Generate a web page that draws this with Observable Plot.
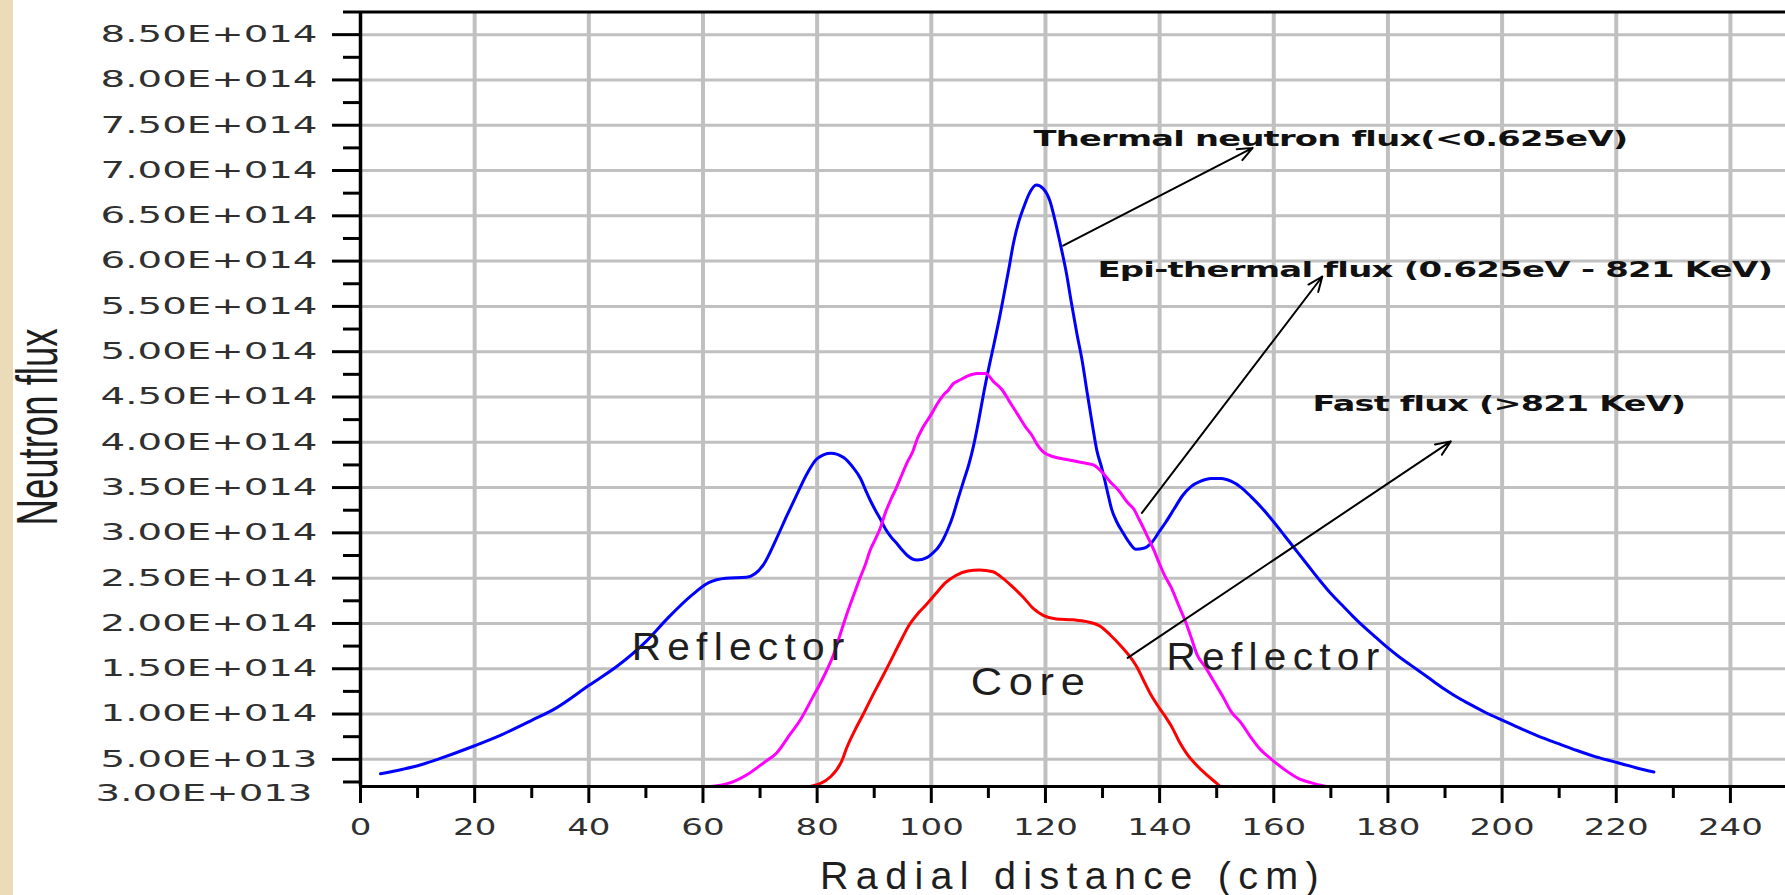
<!DOCTYPE html>
<html>
<head>
<meta charset="utf-8">
<script src="https://cdn.jsdelivr.net/npm/d3@7"></script>
<script src="https://cdn.jsdelivr.net/npm/@observablehq/plot@0.6"></script>
<style>
  html, body { margin: 0; padding: 0; background: #fff; }
  #chart { width: 1785px; height: 895px; }
</style>
</head>
<body>
<div id="chart"></div>
<script>
// ---- Data (radial distance in cm, flux in units of 1e14) ----
const thermalX = [3.5, 7.4, 10.6, 13.5, 20, 24.7, 30, 34.1, 40.1, 45, 50, 54, 58, 61, 64, 67.6, 70.6, 72.9, 74.7, 76.5, 78.2, 80, 82.4, 84.7, 86.2, 87.6, 88.5, 89.3, 90.2, 91.1, 92.0, 93.0, 94.0, 94.9, 95.8, 97.5, 99.3, 100.3, 101.1, 102.1, 102.9, 103.8, 104.7, 105.7, 106.6, 107.4, 108.3, 109.2, 110.1, 111.0, 111.9, 112.7, 113.6, 114.4, 115.3, 116.4, 117.2, 118.4, 119.6, 120.8, 121.6, 122.6, 123.6, 124.6, 125.5, 126.4, 127.3, 128.2, 129.0, 129.9, 130.8, 131.6, 132.5, 133.6, 134.6, 135.8, 137.2, 138.7, 139.9, 141.1, 142.5, 144.0, 145.5, 147.2, 149.0, 150.8, 152.5, 154.3, 156.0, 158, 160, 162, 164, 166, 168, 170, 172, 174, 176, 178, 180, 182, 184, 186, 188, 190, 192, 194, 197, 200.5, 204, 207, 210, 213, 216.3, 219.2, 223.3, 226.6];
const thermalFlux = [0.34, 0.39, 0.44, 0.50, 0.65, 0.77, 0.93, 1.06, 1.32, 1.53, 1.80, 2.07, 2.31, 2.45, 2.50, 2.51, 2.65, 2.94, 3.19, 3.43, 3.65, 3.82, 3.88, 3.83, 3.73, 3.60, 3.47, 3.36, 3.25, 3.15, 3.04, 2.95, 2.88, 2.81, 2.75, 2.70, 2.73, 2.78, 2.83, 2.93, 3.04, 3.19, 3.38, 3.58, 3.76, 3.96, 4.24, 4.55, 4.83, 5.09, 5.36, 5.62, 5.92, 6.20, 6.43, 6.63, 6.75, 6.84, 6.80, 6.66, 6.47, 6.19, 5.89, 5.52, 5.20, 4.91, 4.55, 4.20, 3.91, 3.71, 3.47, 3.26, 3.12, 3.00, 2.90, 2.82, 2.83, 2.90, 3.01, 3.12, 3.26, 3.41, 3.51, 3.57, 3.60, 3.60, 3.57, 3.50, 3.40, 3.27, 3.12, 2.96, 2.80, 2.64, 2.48, 2.33, 2.20, 2.07, 1.95, 1.84, 1.73, 1.63, 1.54, 1.45, 1.36, 1.27, 1.19, 1.12, 1.02, 0.92, 0.82, 0.74, 0.67, 0.60, 0.53, 0.48, 0.41, 0.36];

const epiX = [61.5, 64.7, 68.2, 70.6, 72.9, 75.3, 77.1, 79.1, 81.2, 82.9, 84.4, 85.4, 86.5, 87.5, 88.5, 89.3, 90.2, 91.1, 92.0, 93.0, 93.9, 94.9, 95.8, 96.7, 97.5, 98.4, 99.3, 100.2, 101.0, 102.1, 102.9, 103.9, 105.1, 106.3, 108.0, 109.5, 110.9, 112.4, 113.6, 114.7, 115.6, 116.5, 117.7, 118.5, 119.5, 121.4, 123.7, 126.1, 128.4, 130.2, 131.4, 132.8, 134.3, 135.5, 136.4, 137.2, 138.1, 139.0, 139.9, 140.8, 142.0, 143.4, 144.6, 145.5, 146.6, 148.1, 149.6, 151.1, 152.5, 154.3, 155.8, 157.5, 159.6, 161.6, 164.3, 166.6, 169.2];
const epiFlux = [0.20, 0.24, 0.35, 0.46, 0.57, 0.78, 0.94, 1.17, 1.42, 1.66, 1.95, 2.14, 2.33, 2.50, 2.66, 2.81, 2.93, 3.06, 3.23, 3.38, 3.50, 3.65, 3.78, 3.89, 4.03, 4.15, 4.24, 4.33, 4.42, 4.52, 4.57, 4.65, 4.69, 4.73, 4.76, 4.76, 4.67, 4.58, 4.46, 4.35, 4.26, 4.17, 4.07, 3.98, 3.90, 3.84, 3.81, 3.78, 3.75, 3.65, 3.56, 3.47, 3.34, 3.26, 3.15, 3.05, 2.93, 2.81, 2.67, 2.54, 2.40, 2.19, 2.01, 1.85, 1.65, 1.51, 1.35, 1.19, 1.03, 0.90, 0.76, 0.62, 0.50, 0.40, 0.29, 0.24, 0.20];

const fastX = [78.8, 82.4, 84.3, 85.2, 86.6, 88.1, 89.6, 91.1, 92.5, 93.7, 94.9, 96.1, 97.8, 99.3, 100.8, 102.5, 104.3, 106.4, 108.4, 110.8, 112.5, 114.3, 116.1, 117.8, 119.6, 121.9, 124.9, 127.2, 129.6, 131.4, 133.1, 134.6, 136.1, 137.2, 138.4, 139.6, 140.8, 142.2, 143.4, 144.9, 146.4, 148.2, 149.9, 150.6];
const fastFlux = [0.20, 0.31, 0.48, 0.63, 0.82, 1.00, 1.19, 1.37, 1.54, 1.69, 1.84, 1.98, 2.12, 2.22, 2.33, 2.45, 2.53, 2.58, 2.59, 2.57, 2.50, 2.40, 2.29, 2.17, 2.09, 2.05, 2.04, 2.02, 1.97, 1.87, 1.76, 1.65, 1.51, 1.37, 1.22, 1.10, 0.99, 0.85, 0.70, 0.55, 0.44, 0.33, 0.24, 0.20];

// Axis ticks and labels
const yTickValues = [0.5, 1, 1.5, 2, 2.5, 3, 3.5, 4, 4.5, 5, 5.5, 6, 6.5, 7, 7.5, 8, 8.5];
const yTickLabels = ["5.00E+013", "1.00E+014", "1.50E+014", "2.00E+014", "2.50E+014", "3.00E+014", "3.50E+014", "4.00E+014", "4.50E+014", "5.00E+014", "5.50E+014", "6.00E+014", "6.50E+014", "7.00E+014", "7.50E+014", "8.00E+014", "8.50E+014"];
const yMinorValues = [0.25, 0.75, 1.25, 1.75, 2.25, 2.75, 3.25, 3.75, 4.25, 4.75, 5.25, 5.75, 6.25, 6.75, 7.25, 7.75, 8.25, 8.75];
const yBottomValue = [0.2];
const yBottomLabel = "3.00E+013";
const xTickValues = [0, 20, 40, 60, 80, 100, 120, 140, 160, 180, 200, 220, 240];
const xTickLabels = ["0", "20", "40", "60", "80", "100", "120", "140", "160", "180", "200", "220", "240"];
const xMinorValues = [10, 30, 50, 70, 90, 110, 130, 150, 170, 190, 210, 230];

// Annotations
const noteText = ["Thermal neutron flux(<0.625eV)", "Epi-thermal flux (0.625eV - 821 KeV)", "Fast flux (>821 KeV)"];
const noteX = [117.9, 129.1, 166.8];
const noteY = [7.35, 5.90, 4.42];
const arrowX1 = [123.1, 136.9, 134.4];
const arrowY1 = [6.17, 3.22, 1.62];
const arrowX2 = [156.3, 168.5, 191.0];
const arrowY2 = [7.25, 5.83, 4.01];
const regionText = ["Reflector", "Core", "Reflector"];
const regionX = [47.5, 106.9, 141.2];
const regionY = [1.73, 1.35, 1.62];

const xTitle = "Radial distance (cm)";
const yTitle = "Neutron flux";

// ---- Build tables ----
const zip = (xs, ys) => xs.map((x, i) => ({x, y: ys[i]}));
const thermal = zip(thermalX, thermalFlux);
const epi = zip(epiX, epiFlux);
const fast = zip(fastX, fastFlux);
const notes = noteText.map((t, i) => ({t, x: noteX[i], y: noteY[i]}));
const arrows = arrowX1.map((x1, i) => ({x1, y1: arrowY1[i], x2: arrowX2[i], y2: arrowY2[i]}));
const regions = regionText.map((t, i) => ({t, x: regionX[i], y: regionY[i]}));
const yLabelOf = new Map(yTickValues.map((v, i) => [v, yTickLabels[i]]));
const xLabelOf = new Map(xTickValues.map((v, i) => [v, xTickLabels[i]]));

const GRID = "#c0c0c0";
const lineOpts = {x: "x", y: "y", strokeWidth: 3, curve: "monotone-x"};

const chart = Plot.plot({
  width: 1785,
  height: 895,
  marginLeft: 360,
  marginRight: 0,
  marginTop: 11.5,
  marginBottom: 109,
  x: {domain: [0, 249.65]},
  y: {domain: [0.2, 8.75]},
  style: {fontFamily: "DejaVu Sans", background: "transparent", overflow: "visible"},
  marks: [
    Plot.gridX({ticks: xTickValues.filter(d => d > 0), stroke: GRID, strokeOpacity: 1, strokeWidth: 4}),
    Plot.gridY({ticks: yTickValues, stroke: GRID, strokeOpacity: 1, strokeWidth: 3}),
    Plot.line(thermal, {...lineOpts, stroke: "#0000ff"}),
    Plot.line(epi, {...lineOpts, stroke: "#ff00ff"}),
    Plot.line(fast, {...lineOpts, stroke: "#ff0000"}),
    Plot.arrow(arrows, {x1: "x1", y1: "y1", x2: "x2", y2: "y2", stroke: "black", strokeWidth: 2, headLength: 12, headAngle: 45}),
    Plot.ruleX([0], {stroke: "black", strokeWidth: 3.5}),
    Plot.ruleY([0.2, 8.75], {stroke: "black", strokeWidth: 3}),
    Plot.axisY({ticks: yMinorValues, tickSize: 17, tickFormat: () => "", strokeWidth: 3, label: null}),
    Plot.axisY({ticks: yTickValues, tickSize: 28, tickPadding: 15, tickFormat: d => yLabelOf.get(d), strokeWidth: 3, fontSize: 23, label: null}),
    Plot.axisY({ticks: yBottomValue, tickSize: 0, tickPadding: 48, tickFormat: () => yBottomLabel, fontSize: 23, dy: 7, label: null}),
    Plot.axisX({ticks: xMinorValues, tickSize: 12, tickFormat: () => "", strokeWidth: 3, label: null}),
    Plot.axisX({ticks: xTickValues, tickSize: 17, tickPadding: 15, tickFormat: d => xLabelOf.get(d), strokeWidth: 3, fontSize: 23, label: null}),
    Plot.text(regions, {x: "x", y: "y", text: "t", textAnchor: "start", lineAnchor: "middle", fontSize: 39, fontFamily: "Liberation Sans", fill: "#1e1e1e"}),
    Plot.text(notes, {x: "x", y: "y", text: "t", textAnchor: "start", lineAnchor: "middle", fontSize: 22, fontFamily: "DejaVu Sans", fontWeight: "bold", fill: "#111"}),
    Plot.text([xTitle], {frameAnchor: "bottom", textAnchor: "middle", lineAnchor: "middle", dy: 90.5, fontSize: 38, fontFamily: "Liberation Sans", fill: "#1e1e1e"}),
    Plot.text([yTitle], {frameAnchor: "left", textAnchor: "middle", lineAnchor: "middle", rotate: -90, dx: -321.5, dy: 27.75, fontSize: 57, fontFamily: "Liberation Sans", fill: "#1e1e1e"})
  ]
});

chart.style.background = "linear-gradient(to right, #eadcb8 0px, #eadcb8 13px, #ffffff 13px)";
document.getElementById("chart").append(chart);

// ---- Text post-processing: letter spacing & horizontal stretch ----
function stretch(el, s) {
  const t = el.getAttribute("transform");
  if (t) {
    el.setAttribute("transform", t + ` scale(${s},1)`);
  } else {
    const x = +el.getAttribute("x") || 0;
    el.removeAttribute("x");
    el.setAttribute("transform", `translate(${x},0) scale(${s},1)`);
  }
}

const tickFont = el => { el.style.fontFamily = "DejaVu Sans"; el.style.fontSize = "23px"; el.style.fill = "#303030"; };
const yLabels = [...chart.querySelectorAll('g[aria-label="y-axis tick label"] text')];
const xLabels = [...chart.querySelectorAll('g[aria-label="x-axis tick label"] text')];
yLabels.forEach(tickFont);
xLabels.forEach(tickFont);
const refY = yLabels.find(t => t.textContent === "8.50E+014");
const sy = refY ? 217 / refY.getComputedTextLength() : 1.68;
yLabels.forEach(t => stretch(t, sy));
const refX = xLabels.find(t => t.textContent === "200");
const sx = refX ? 65 / refX.getComputedTextLength() : 1.48;
xLabels.forEach(t => stretch(t, sx));

const fits = new Map([
  ["Thermal neutron flux(<0.625eV)", {w: 594, ls: -0.5}],
  ["Epi-thermal flux (0.625eV - 821 KeV)", {w: 675, ls: -0.5}],
  ["Fast flux (>821 KeV)", {w: 373, ls: -0.5}],
  ["Reflector", {w: 219, ls: 6}],
  ["Core", {w: 121, ls: 6}],
  ["Radial distance (cm)", {w: 506, ls: 7}],
  ["Neutron flux", {w: 197, ls: 0}]
]);
chart.querySelectorAll("text").forEach(t => {
  const f = fits.get(t.textContent);
  if (!f) return;
  t.style.letterSpacing = f.ls + "px";
  const len = t.getComputedTextLength();
  if (len > 0) stretch(t, f.w / len);
});
</script>
</body>
</html>
